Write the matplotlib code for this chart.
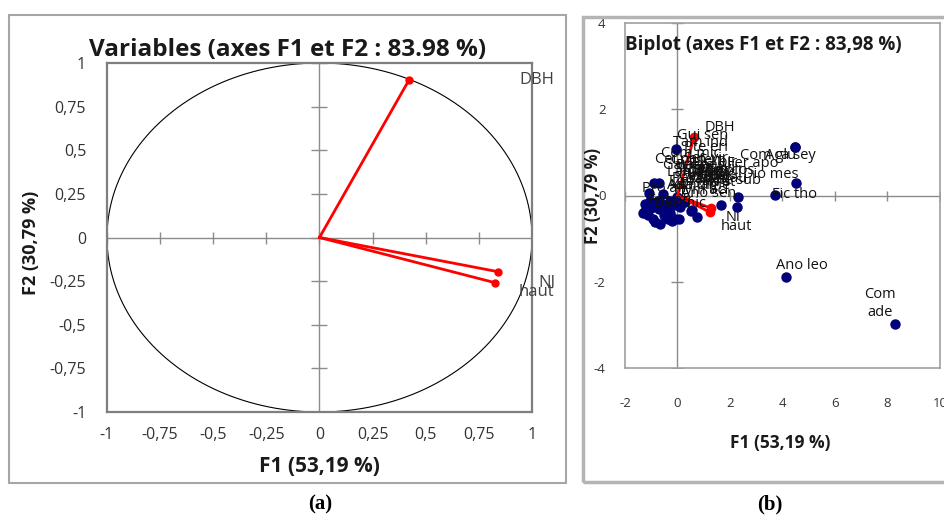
import matplotlib
matplotlib.use("Agg")
import matplotlib.pyplot as plt
import numpy as np
from matplotlib.patches import Rectangle

# ---------------- data ----------------
# Panel (a): correlation circle
var_names = ["DBH", "NI", "haut"]
var_f1 = [0.42, 0.84, 0.826]
var_f2 = [0.90, -0.196, -0.259]
var_lab_dx = [92, 35, 30]     # label offsets (points)
var_lab_dy = [0, -8, -7]

circle_ticks = [-1, -0.75, -0.5, -0.25, 0, 0.25, 0.5, 0.75, 1]
circle_ticklabels = ["-1", "-0,75", "-0,5", "-0,25", "0", "0,25", "0,5", "0,75", "1"]

# Panel (b): biplot
bi_var_f1 = [0.63, 1.26, 1.24]
bi_var_f2 = [1.35, -0.29, -0.39]
bi_var_dx = [19, 16, 19]
bi_var_dy = [7, -7, -10]

# observations (F1, F2)
obs_f1 = [-0.91, -0.72, -1.10, -1.03, -1.22, -1.14, -0.95, -0.65, -0.38, -0.08,
          0.04, -0.72, -0.38, -0.15, -0.76, -0.57, -0.27, 0.00, 0.11, 0.50,
          -0.07, 2.30, 2.25, 1.64, 0.76, 0.57, -1.30, -0.50, -0.85, -0.20,
          -1.00, -0.60, -0.30, -1.25, 0.30]
obs_f2 = [0.28, 0.30, 0.05, -0.12, -0.35, -0.46, -0.54, -0.66, -0.54, -0.54,
          -0.54, -0.31, -0.27, -0.23, -0.12, 0.04, -0.12, -0.04, -0.27, -0.35,
          1.08, -0.04, -0.26, -0.22, -0.50, -0.33, -0.40, -0.45, -0.62, -0.60,
          -0.30, -0.20, -0.40, -0.20, -0.15]

# labelled observations far from the main cloud
out_names = ["Aca sey", "Com glu", "Dio mes", "Fic tho", "Ano leo", "Com\nade"]
out_f1 = [4.46, 4.46, 4.50, 3.70, 4.15, 8.30]
out_f2 = [1.12, 1.12, 0.30, 0.02, -1.88, -2.99]
out_dx = [-3, -19, -18, 14, 11, -11]
out_dy = [-6, -6, 6, 0, 8, 15]

# labels of the main cloud (placed by the software, heavily overlapping)
cl_names = ["Gui sen", "Tam ind", "Pte eri", "Com mic", "Cei pen", "Sec vir",
            "Cro fem", "Scl bir", "Gar ere", "Bal aeg", "Ter avi", "Ste set",
            "Bom cos", "Lan aci", "Vit par", "Par big", "Ziz mau", "Pte sub",
            "Pil ret", "Xim ame", "Ada dig", "Pro afr", "Hym aci", "Ano sen",
            "Ent afr", "Det mic", "Fer apo",
            "Str spi", "Gre bic", "Cas sie", "Dan oli", "Lon lax", "Sar lat"]
cl_x = [0.95, 0.88, 1.07, 0.50, 0.11, 1.10,
        0.80, 1.49, 0.42, 0.88, 1.33, 1.07,
        1.83, 0.50, 1.26, 0.69, 1.64, 2.21,
        1.45, 0.88, 0.57, -0.46, 0.88, 1.18,
        -0.27, 0.11, 2.86,
        0.70, 1.30, 0.95, 1.55, 0.60, 1.20]
cl_y = [1.39, 1.23, 1.11, 0.97, 0.83, 0.86,
        0.81, 0.77, 0.70, 0.70, 0.63, 0.58,
        0.58, 0.53, 0.46, 0.39, 0.39, 0.35,
        0.30, 0.23, 0.23, 0.16, 0.12, 0.05,
        -0.12, -0.19, 0.74,
        0.62, 0.52, 0.44, 0.55, 0.33, 0.36]

bi_xticks = [-2, 0, 2, 4, 6, 8, 10]
bi_yticks = [-4, -2, 0, 2, 4]

# ---------------- figure ----------------
W, H = 945, 517
fig = plt.figure(figsize=(W / 100, H / 100), dpi=100)
plt.rcParams["font.family"] = ["Open Sans", "DejaVu Sans"]

def fy(py):
    return 1 - py / H

# outer panel frames
fig.add_artist(Rectangle((9 / W, fy(483)), 557 / W, 468 / H, transform=fig.transFigure,
                         fill=False, ec="#a6a6a6", lw=1.5))
fig.add_artist(Rectangle((583 / W, fy(482)), 370 / W, 465 / H, transform=fig.transFigure,
                         fill=False, ec="#b4b4b4", lw=2.5))

# ---------- panel (a) ----------
axa = fig.add_axes([107 / W, fy(412), 425 / W, 349 / H])
axa.set_xlim(-1, 1)
axa.set_ylim(-1, 1)
axa.set_xticks(circle_ticks)
axa.set_xticklabels(circle_ticklabels)
axa.set_yticks(circle_ticks)
axa.set_yticklabels(circle_ticklabels)
axa.tick_params(length=0, labelsize=11.5, colors="#333333")
axa.tick_params(axis="y", pad=15)
axa.tick_params(axis="x", pad=11)
for s in axa.spines.values():
    s.set_color("#7f7f7f")
    s.set_linewidth(1.6)

gray = "#8c8c8c"
axa.axhline(0, color=gray, lw=1)
axa.axvline(0, color=gray, lw=1)
axa.plot(circle_ticks, [0] * len(circle_ticks), ls="none", marker="|", ms=9, mew=1, color=gray)
axa.plot([0] * len(circle_ticks), circle_ticks, ls="none", marker="_", ms=11, mew=1, color=gray)

th = np.linspace(0, 2 * np.pi, 400)
axa.plot(np.cos(th), np.sin(th), color="black", lw=0.8)

for n, x, y, dx, dy in zip(var_names, var_f1, var_f2, var_lab_dx, var_lab_dy):
    axa.plot([0, x], [0, y], color="red", lw=2)
    axa.plot(x, y, "o", color="red", ms=5)
    axa.annotate(n, (x, y), xytext=(dx, dy), textcoords="offset points", ha="center",
                 va="center", fontsize=12, color="#404040", annotation_clip=False)

fig.text(288 / W, fy(50), "Variables (axes F1 et F2 : 83.98 %)", ha="center", va="center",
         fontsize=17.5, fontweight="bold", color="#1a1a1a")
fig.text(319 / W, fy(466), "F1 (53,19 %)", ha="center", va="center",
         fontsize=15, fontweight="bold", color="#1a1a1a")
fig.text(31 / W, fy(243), "F2 (30,79 %)", ha="center", va="center", rotation=90,
         fontsize=13, fontweight="bold", color="#1a1a1a")

# ---------- panel (b) ----------
axb = fig.add_axes([625 / W, fy(368), 315 / W, 345 / H])
axb.set_xlim(-2, 10)
axb.set_ylim(-4, 4)
axb.set_xticks(bi_xticks)
axb.set_xticklabels([str(t) for t in bi_xticks])
axb.set_yticks(bi_yticks)
axb.set_yticklabels([str(t) for t in bi_yticks])
axb.tick_params(length=0, labelsize=9.5, colors="#333333")
axb.tick_params(axis="y", pad=14)
axb.tick_params(axis="x", pad=21)
for s in axb.spines.values():
    s.set_color("#a0a0a0")
    s.set_linewidth(1.2)

axb.axhline(0, color=gray, lw=1)
axb.axvline(0, color=gray, lw=1)
axb.plot(bi_xticks, [0] * len(bi_xticks), ls="none", marker="|", ms=7, mew=1, color=gray)
axb.plot([0] * len(bi_yticks), bi_yticks, ls="none", marker="_", ms=9, mew=1, color=gray)

navy = "#00007a"
axb.plot(obs_f1, obs_f2, "o", color=navy, ms=6.5, zorder=3)
axb.plot(out_f1, out_f2, "o", color=navy, ms=6.5, zorder=3)
for n, x, y, dx, dy in zip(out_names, out_f1, out_f2, out_dx, out_dy):
    axb.annotate(n, (x, y), xytext=(dx, dy), textcoords="offset points", ha="center",
                 va="center", fontsize=10.5, color="#111111", zorder=5, linespacing=1.3)
for n, x, y in zip(cl_names, cl_x, cl_y):
    axb.text(x, y, n, ha="center", va="center", fontsize=10.5, color="#111111", zorder=5)

for n, x, y, dx, dy in zip(var_names, bi_var_f1, bi_var_f2, bi_var_dx, bi_var_dy):
    axb.plot([0, x], [0, y], color="red", lw=2, zorder=4)
    axb.plot(x, y, "o", color="red", ms=6, zorder=4)
    axb.annotate(n, (x, y), xytext=(dx, dy), textcoords="offset points", ha="center",
                 va="center", fontsize=10.5, color="#111111", zorder=5)

axb.text(0.0, 0.935, "Biplot (axes F1 et F2 : 83,98 %)", transform=axb.transAxes,
         ha="left", va="center", fontsize=13.5, fontweight="bold", color="#1a1a1a")
fig.text(780 / W, fy(443), "F1 (53,19 %)", ha="center", va="center",
         fontsize=12.5, fontweight="bold", color="#1a1a1a")
fig.text(593 / W, fy(196), "F2 (30,79 %)", ha="center", va="center", rotation=90,
         fontsize=12, fontweight="bold", color="#1a1a1a")

# panel letters
fig.text(320 / W, fy(504), "(a)", ha="center", va="center", fontsize=15,
         fontweight="bold", family="Liberation Serif")
fig.text(770 / W, fy(504), "(b)", ha="center", va="center", fontsize=15,
         fontweight="bold", family="Liberation Serif")

fig.savefig("out.png", dpi=100)
